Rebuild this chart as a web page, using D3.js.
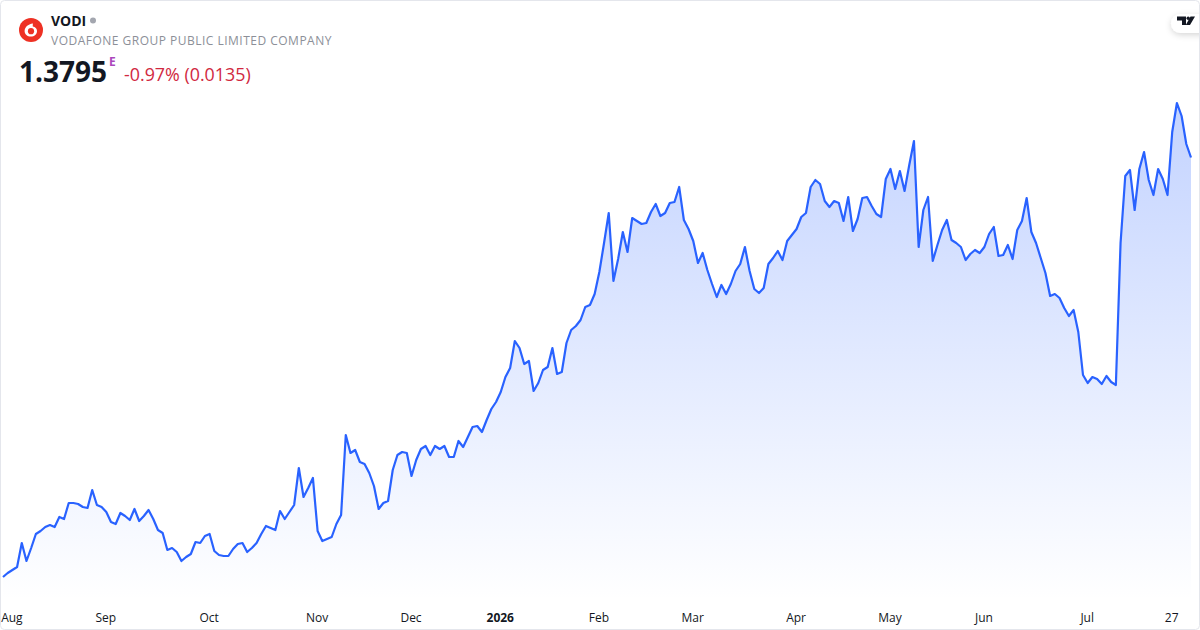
<!DOCTYPE html>
<html>
<head>
<meta charset="utf-8">
<script src="https://cdn.jsdelivr.net/npm/d3@7"></script>
<style>
  html, body { margin: 0; padding: 0; background: #fff; }
  text { font-family: "Open Sans", sans-serif; }
</style>
</head>
<body>
<div id="chart"></div>
<script>
// closing prices, one per trading day
var prices = [
  0.960, 0.964, 0.967, 0.970, 0.994, 0.976, 0.989, 1.003, 1.006, 1.010, 1.012, 1.010, 1.020, 1.018, 1.034, 1.034,
  1.033, 1.030, 1.029, 1.047, 1.032, 1.030, 1.025, 1.015, 1.013, 1.024, 1.021, 1.017, 1.028, 1.016, 1.021, 1.027,
  1.018, 1.007, 1.004, 0.987, 0.989, 0.985, 0.976, 0.980, 0.983, 0.995, 0.994, 1.001, 1.003, 0.986, 0.982, 0.981,
  0.981, 0.988, 0.993, 0.994, 0.985, 0.989, 0.994, 1.003, 1.011, 1.009, 1.007, 1.026, 1.018, 1.025, 1.032, 1.069,
  1.040, 1.049, 1.059, 1.006, 0.996, 0.998, 1.000, 1.013, 1.022, 1.102, 1.084, 1.087, 1.075, 1.073, 1.064, 1.051,
  1.028, 1.034, 1.036, 1.067, 1.082, 1.085, 1.084, 1.061, 1.077, 1.088, 1.091, 1.082, 1.091, 1.088, 1.091, 1.080,
  1.080, 1.096, 1.090, 1.100, 1.110, 1.111, 1.105, 1.117, 1.128, 1.135, 1.145, 1.160, 1.169, 1.196, 1.189, 1.173,
  1.176, 1.146, 1.154, 1.167, 1.170, 1.189, 1.163, 1.165, 1.194, 1.207, 1.211, 1.217, 1.230, 1.232, 1.243, 1.265,
  1.294, 1.324, 1.256, 1.278, 1.305, 1.285, 1.319, 1.316, 1.313, 1.314, 1.325, 1.333, 1.321, 1.324, 1.334, 1.335,
  1.350, 1.317, 1.308, 1.296, 1.274, 1.284, 1.267, 1.253, 1.240, 1.252, 1.243, 1.253, 1.266, 1.273, 1.290, 1.266,
  1.248, 1.244, 1.249, 1.273, 1.279, 1.286, 1.277, 1.296, 1.302, 1.308, 1.320, 1.324, 1.350, 1.357, 1.353, 1.336,
  1.330, 1.336, 1.334, 1.316, 1.340, 1.306, 1.318, 1.339, 1.340, 1.331, 1.323, 1.320, 1.358, 1.368, 1.348, 1.366,
  1.346, 1.372, 1.396, 1.290, 1.327, 1.340, 1.276, 1.292, 1.307, 1.317, 1.297, 1.294, 1.290, 1.277, 1.283, 1.287,
  1.284, 1.290, 1.303, 1.310, 1.281, 1.282, 1.292, 1.278, 1.307, 1.316, 1.339, 1.305, 1.294, 1.279, 1.264, 1.241,
  1.243, 1.239, 1.229, 1.221, 1.227, 1.205, 1.162, 1.154, 1.160, 1.158, 1.153, 1.161, 1.155, 1.152, 1.294, 1.361,
  1.367, 1.327, 1.368, 1.385, 1.357, 1.342, 1.368, 1.358, 1.342, 1.405, 1.434, 1.421, 1.393, 1.3795
];

var tickLabels = ["Aug", "Sep", "Oct", "Nov", "Dec", "2026", "Feb", "Mar", "Apr", "May", "Jun", "Jul", "27"];
var tickIndex = [2, 22, 44, 67, 87, 106, 127, 147, 169, 189, 209, 231, 249];

var ticker = "VODI";
var companyName = "VODAFONE GROUP PUBLIC LIMITED COMPANY";
var lastPrice = "1.3795";
var priceChange = "-0.97% (0.0135)";

var width = 1200, height = 630;

var svg = d3.select("#chart").append("svg")
  .attr("width", width)
  .attr("height", height)
  .style("display", "block");

var defs = svg.append("defs");

var grad = defs.append("linearGradient")
  .attr("id", "areaFill")
  .attr("gradientUnits", "userSpaceOnUse")
  .attr("x1", 0).attr("x2", 0)
  .attr("y1", 103).attr("y2", 600);
grad.append("stop").attr("offset", 0).attr("stop-color", "#2962ff").attr("stop-opacity", 0.28);
grad.append("stop").attr("offset", 1).attr("stop-color", "#2962ff").attr("stop-opacity", 0);

var shadow = defs.append("filter").attr("id", "pillShadow")
  .attr("x", "-30%").attr("y", "-40%").attr("width", "160%").attr("height", "200%");
shadow.append("feDropShadow")
  .attr("dx", 0).attr("dy", 2).attr("stdDeviation", 3)
  .attr("flood-color", "#000").attr("flood-opacity", 0.16);

var x = d3.scaleLinear().domain([0, prices.length - 1]).range([3, 1191]);
var y = d3.scaleLinear().domain([0.937, 1.537]).range([600, 0]);

var area = d3.area()
  .x(function (d, i) { return x(i); })
  .y0(y(0.937))
  .y1(function (d) { return y(d); });

var line = d3.line()
  .x(function (d, i) { return x(i); })
  .y(function (d) { return y(d); });

svg.append("path").datum(prices)
  .attr("d", area)
  .attr("fill", "url(#areaFill)");

svg.append("path").datum(prices)
  .attr("d", line)
  .attr("fill", "none")
  .attr("stroke", "#2962ff")
  .attr("stroke-width", 2.2)
  .attr("stroke-linejoin", "round");

// month axis, no line and no tick marks
var xAxis = d3.axisBottom(x)
  .tickValues(tickIndex)
  .tickSize(0)
  .tickPadding(0)
  .tickFormat(function (d, i) { return tickLabels[i]; });

var axisG = svg.append("g")
  .attr("transform", "translate(-1,613)")
  .call(xAxis);
axisG.select(".domain").remove();
axisG.selectAll("text")
  .attr("fill", "#131722")
  .style("font-family", "'Open Sans', sans-serif")
  .style("font-size", "12px")
  .style("font-weight", function (d, i) { return tickLabels[i] === "2026" ? 700 : 400; });

// header
var logo = svg.append("g").attr("transform", "translate(31,30)");
logo.append("circle").attr("r", 12).attr("fill", "#ee3124");
logo.append("path")
  .attr("d", "M2,-6.6 C-3.2,-6 -6.4,-2.8 -6.4,1 C-6.4,4.4 -3.6,6.6 -0.2,6.6 C3.4,6.6 6,4.1 6,1 C6,-1.6 4.2,-3 1.8,-3.4 C1.6,-4.8 1.8,-5.8 2,-6.6 Z")
  .attr("fill", "#fff");
logo.append("circle").attr("cx", 0).attr("cy", 1.2).attr("r", 3.1).attr("fill", "#ee3124");

svg.append("text").attr("x", 51).attr("y", 26)
  .attr("font-size", 14).attr("font-weight", 700).attr("fill", "#131722")
  .text(ticker);
svg.append("circle").attr("cx", 93).attr("cy", 20.5).attr("r", 3).attr("fill", "#a3a6af");
svg.append("text").attr("x", 51).attr("y", 45)
  .attr("font-size", 12).attr("fill", "#8c8f98").attr("letter-spacing", 0.49)
  .text(companyName);
svg.append("text").attr("x", 19).attr("y", 82)
  .attr("font-size", 28).attr("font-weight", 700).attr("fill", "#131722")
  .attr("textLength", 88)
  .text(lastPrice);
svg.append("text").attr("x", 109).attr("y", 66)
  .attr("font-size", 12).attr("font-weight", 700).attr("fill", "#ab47bc")
  .text("E");
svg.append("text").attr("x", 124).attr("y", 81)
  .attr("font-size", 17.85).attr("fill", "#d1293f")
  .text(priceChange);

// TradingView badge
svg.append("rect")
  .attr("x", 1171).attr("y", 14).attr("width", 50).attr("height", 19).attr("rx", 9.5)
  .attr("fill", "#fff")
  .attr("filter", "url(#pillShadow)");
svg.append("path")
  .attr("d", "M1177,16.5 H1186 V25 H1182 V20.5 H1177 Z M1190.5,16.5 H1195 L1190,25 H1185.8 Z")
  .attr("fill", "#131722");
svg.append("circle").attr("cx", 1188.2).attr("cy", 18.3).attr("r", 1.7).attr("fill", "#131722");

// card border
svg.append("rect")
  .attr("x", 0.5).attr("y", 0.5).attr("width", width - 1).attr("height", height - 1).attr("rx", 4)
  .attr("fill", "none")
  .attr("stroke", "#e4e6ec");
</script>
</body>
</html>
